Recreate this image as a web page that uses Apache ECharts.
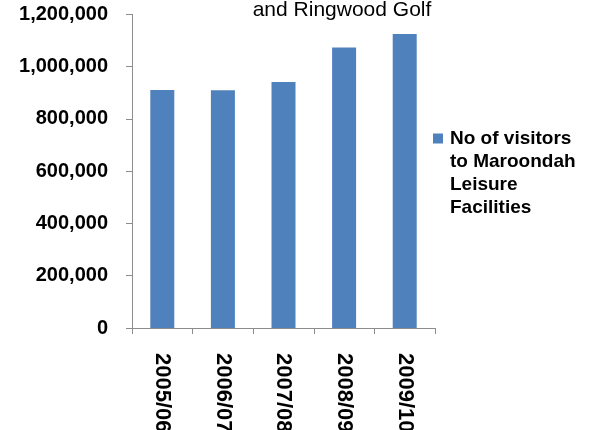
<!DOCTYPE html>
<html>
<head>
<meta charset="utf-8">
<script src="https://cdn.jsdelivr.net/npm/echarts@6/dist/echarts.min.js"></script>
<style>
  html, body { margin: 0; padding: 0; background: #fff; }
  #chart { width: 590px; height: 430px; }
</style>
</head>
<body>
<div id="chart"></div>
<script>
// Annual visitor numbers for Maroondah leisure facilities
const seasons = ['2005/06', '2006/07', '2007/08', '2008/09', '2009/10'];
const visitors = [911000, 910000, 941000, 1073000, 1125000];
const seriesName = 'No of visitors\nto Maroondah\nLeisure\nFacilities';
const titleText = 'and Ringwood Golf';

const chart = echarts.init(document.getElementById('chart'));
chart.setOption({
  animation: false,
  backgroundColor: '#ffffff',
  title: {
    text: titleText,
    left: 337,
    top: -5,
    textAlign: 'center',
    textStyle: { fontFamily: 'Liberation Sans', fontSize: 21, fontWeight: 'normal', color: '#000' }
  },
  legend: {
    left: 433,
    top: 58,
    padding: 0,
    orient: 'vertical',
    icon: 'rect',
    itemWidth: 10,
    itemHeight: 10,
    itemGap: 4,
    // blank lines above keep the first text line level with the colour swatch
    formatter: name => '\n\n\n' + name,
    textStyle: {
      fontFamily: 'Liberation Sans', fontSize: 19, fontWeight: 'bold', color: '#000',
      lineHeight: 23, padding: [0, 0, 0, 2]
    },
    data: [seriesName]
  },
  grid: {
    left: 132, right: 155, top: 14.4, bottom: 102,
    containLabel: false,
    // category labels run off the bottom edge; keep the plot area fixed
    outerBoundsMode: 'none'
  },
  xAxis: {
    type: 'category',
    data: seasons,
    axisLine: { lineStyle: { color: '#8c8c8c', width: 1 } },
    axisTick: { show: true, length: 6, lineStyle: { color: '#8c8c8c' } },
    axisLabel: {
      rotate: -90,
      margin: 25,
      fontFamily: 'Liberation Sans', fontSize: 22, fontWeight: 'bold', color: '#000'
    }
  },
  yAxis: {
    type: 'value',
    min: 0,
    max: 1200000,
    interval: 200000,
    splitLine: { show: false },
    axisLine: { show: true, lineStyle: { color: '#8c8c8c', width: 1 } },
    axisTick: { show: true, length: 6, lineStyle: { color: '#8c8c8c' } },
    axisLabel: {
      margin: 24,
      fontFamily: 'Liberation Sans', fontSize: 20, fontWeight: 'bold', color: '#000',
      formatter: v => v.toLocaleString('en-US')
    }
  },
  series: [{
    name: seriesName,
    type: 'bar',
    data: visitors,
    barWidth: 24,
    itemStyle: { color: '#4f81bd' }
  }]
});
</script>
</body>
</html>
